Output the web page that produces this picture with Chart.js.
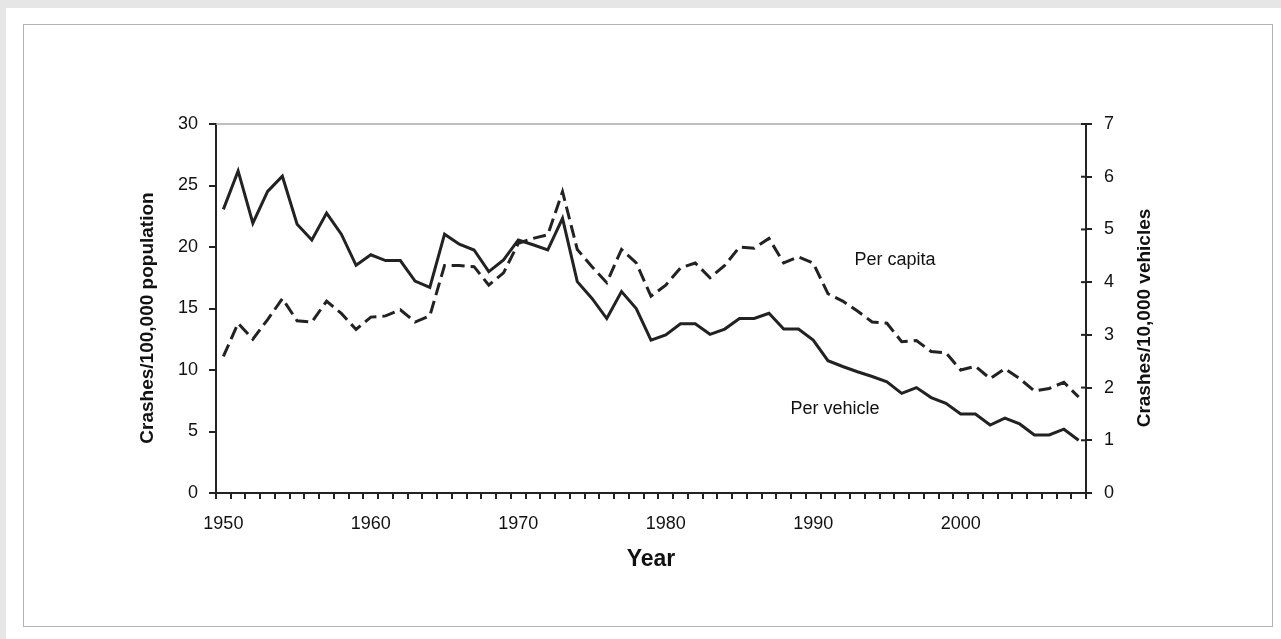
<!DOCTYPE html>
<html>
<head>
<meta charset="utf-8">
<script src="https://cdn.jsdelivr.net/npm/chart.js@4/dist/chart.umd.min.js"></script>
<style>
  html, body { margin: 0; padding: 0; }
  body { width: 1281px; height: 639px; background: #e6e6e6; position: relative; overflow: hidden; }
  #sheet { position: absolute; left: 6px; top: 8px; right: 0; bottom: 0; background: #fff; }
  #frame { position: absolute; left: 23px; top: 24px; width: 1248px; height: 601px; border: 1px solid #b4b4b4; }
  #wrap { position: absolute; left: 0; top: 0; width: 1281px; height: 639px; }
</style>
</head>
<body>
<div id="sheet"></div>
<div id="frame"></div>
<div id="wrap"><canvas id="chart"></canvas></div>
<script>
// Годы (категории оси X)
const years = [
  1950, 1951, 1952, 1953, 1954, 1955, 1956, 1957, 1958, 1959,
  1960, 1961, 1962, 1963, 1964, 1965, 1966, 1967, 1968, 1969,
  1970, 1971, 1972, 1973, 1974, 1975, 1976, 1977, 1978, 1979,
  1980, 1981, 1982, 1983, 1984, 1985, 1986, 1987, 1988, 1989,
  1990, 1991, 1992, 1993, 1994, 1995, 1996, 1997, 1998, 1999,
  2000, 2001, 2002, 2003, 2004, 2005, 2006, 2007, 2008
];
const yearLabels = [1950, 1960, 1970, 1980, 1990, 2000];

// Per capita - левая ось (Crashes/100,000 population), пунктир
const perCapita = [
  11.1, 13.8, 12.5, 14.1, 15.8, 14.0, 13.9, 15.6, 14.6, 13.3,
  14.3, 14.4, 14.9, 13.9, 14.4, 18.5, 18.5, 18.4, 16.9, 17.9,
  20.3, 20.7, 21.0, 24.5, 19.8, 18.4, 17.1, 19.8, 18.7, 16.0,
  16.9, 18.3, 18.7, 17.5, 18.5, 20.0, 19.9, 20.7, 18.7, 19.2,
  18.7, 16.2, 15.6, 14.8, 13.9, 13.8, 12.3, 12.4, 11.5, 11.4,
  10.0, 10.3, 9.3, 10.1, 9.3, 8.3, 8.5, 9.0, 7.8
];

// Per vehicle - правая ось (Crashes/10,000 vehicles), сплошная
const perVehicle = [
  5.38, 6.11, 5.12, 5.72, 6.01, 5.10, 4.80, 5.31, 4.91, 4.32,
  4.52, 4.41, 4.41, 4.02, 3.90, 4.91, 4.72, 4.61, 4.20, 4.42,
  4.80, 4.71, 4.61, 5.21, 4.01, 3.69, 3.31, 3.82, 3.50, 2.90,
  3.00, 3.21, 3.21, 3.01, 3.11, 3.31, 3.31, 3.41, 3.11, 3.11,
  2.90, 2.51, 2.40, 2.30, 2.21, 2.11, 1.89, 2.00, 1.81, 1.70,
  1.50, 1.50, 1.29, 1.42, 1.31, 1.10, 1.10, 1.21, 1.00
];

const leftTitle = 'Crashes/100,000 population';
const rightTitle = 'Crashes/10,000 vehicles';

const FONT = '"Liberation Sans", Arial, sans-serif';
const INK = '#222';

// Рамка сверху, внутренние засечки правой оси и подписи осей Y
const extras = {
  id: 'extras',
  afterDraw(chart) {
    const ctx = chart.ctx;
    const area = chart.chartArea;
    const y1 = chart.scales.y1;
    ctx.save();
    ctx.strokeStyle = '#a8a8a8';
    ctx.lineWidth = 1.5;
    ctx.beginPath();
    ctx.moveTo(area.left, area.top);
    ctx.lineTo(area.right, area.top);
    ctx.stroke();

    ctx.strokeStyle = INK;
    ctx.lineWidth = 2;
    y1.ticks.forEach((t) => {
      const py = y1.getPixelForValue(t.value);
      ctx.beginPath();
      ctx.moveTo(area.right - 5, py);
      ctx.lineTo(area.right, py);
      ctx.stroke();
    });

    ctx.fillStyle = '#111';
    ctx.font = 'bold 19px ' + FONT;
    ctx.textAlign = 'center';
    ctx.textBaseline = 'middle';
    [[148, leftTitle], [1145, rightTitle]].forEach(([x, text]) => {
      ctx.save();
      ctx.translate(x, 318);
      ctx.rotate(-Math.PI / 2);
      ctx.fillText(text, 0, 0);
      ctx.restore();
    });

    ctx.font = '18px ' + FONT;
    ctx.fillText('Per capita', 895, 260);
    ctx.fillText('Per vehicle', 835, 409);
    ctx.restore();
  }
};

const config = {
  type: 'line',
  data: {
    labels: years,
    datasets: [{
      label: 'Per capita',
      data: perCapita,
      yAxisID: 'y',
      borderColor: INK,
      borderWidth: 3,
      borderDash: [13, 6],
      borderJoinStyle: 'miter',
      pointRadius: 0,
      tension: 0,
      fill: false
    }, {
      label: 'Per vehicle',
      data: perVehicle,
      yAxisID: 'y1',
      borderColor: INK,
      borderWidth: 3,
      borderJoinStyle: 'miter',
      pointRadius: 0,
      tension: 0,
      fill: false
    }]
  },
  options: {
    responsive: false,
    animation: false,
    layout: { padding: { top: 124, left: 0, right: 0, bottom: 0 } },
    plugins: {
      legend: { display: false },
      tooltip: { enabled: false }
    },
    scales: {
      x: {
        type: 'category',
        offset: true,
        border: { color: INK, width: 2 },
        grid: { offset: true, drawOnChartArea: false, color: INK, lineWidth: 2, tickLength: 6 },
        ticks: {
          autoSkip: false,
          maxRotation: 0,
          padding: 14,
          color: '#111',
          font: { family: FONT, size: 18 },
          callback: function(value, i) {
            return yearLabels.includes(years[i]) ? String(years[i]) : '';
          }
        },
        title: {
          display: true,
          text: 'Year',
          color: '#111',
          font: { family: FONT, size: 23, weight: 'bold' },
          padding: { top: 0, bottom: 66 }
        },
        afterFit(scale) { scale.height = 146; }
      },
      y: {
        position: 'left',
        min: 0,
        max: 30,
        border: { color: INK, width: 2 },
        grid: { drawOnChartArea: false, color: INK, lineWidth: 2, tickLength: 7 },
        ticks: { stepSize: 5, padding: 11, color: '#111', font: { family: FONT, size: 18 } },
        afterFit(scale) { scale.width = 216; }
      },
      y1: {
        position: 'right',
        min: 0,
        max: 7,
        border: { color: INK, width: 2 },
        grid: { drawOnChartArea: false, color: INK, lineWidth: 2, tickLength: 6 },
        ticks: { stepSize: 1, padding: 12, color: '#111', font: { family: FONT, size: 18 } },
        afterFit(scale) { scale.width = 195; }
      }
    }
  },
  plugins: [extras]
};

const canvas = document.getElementById('chart');
canvas.width = 1281;
canvas.height = 639;
const crashChart = new Chart(canvas, config);
</script>
</body>
</html>
